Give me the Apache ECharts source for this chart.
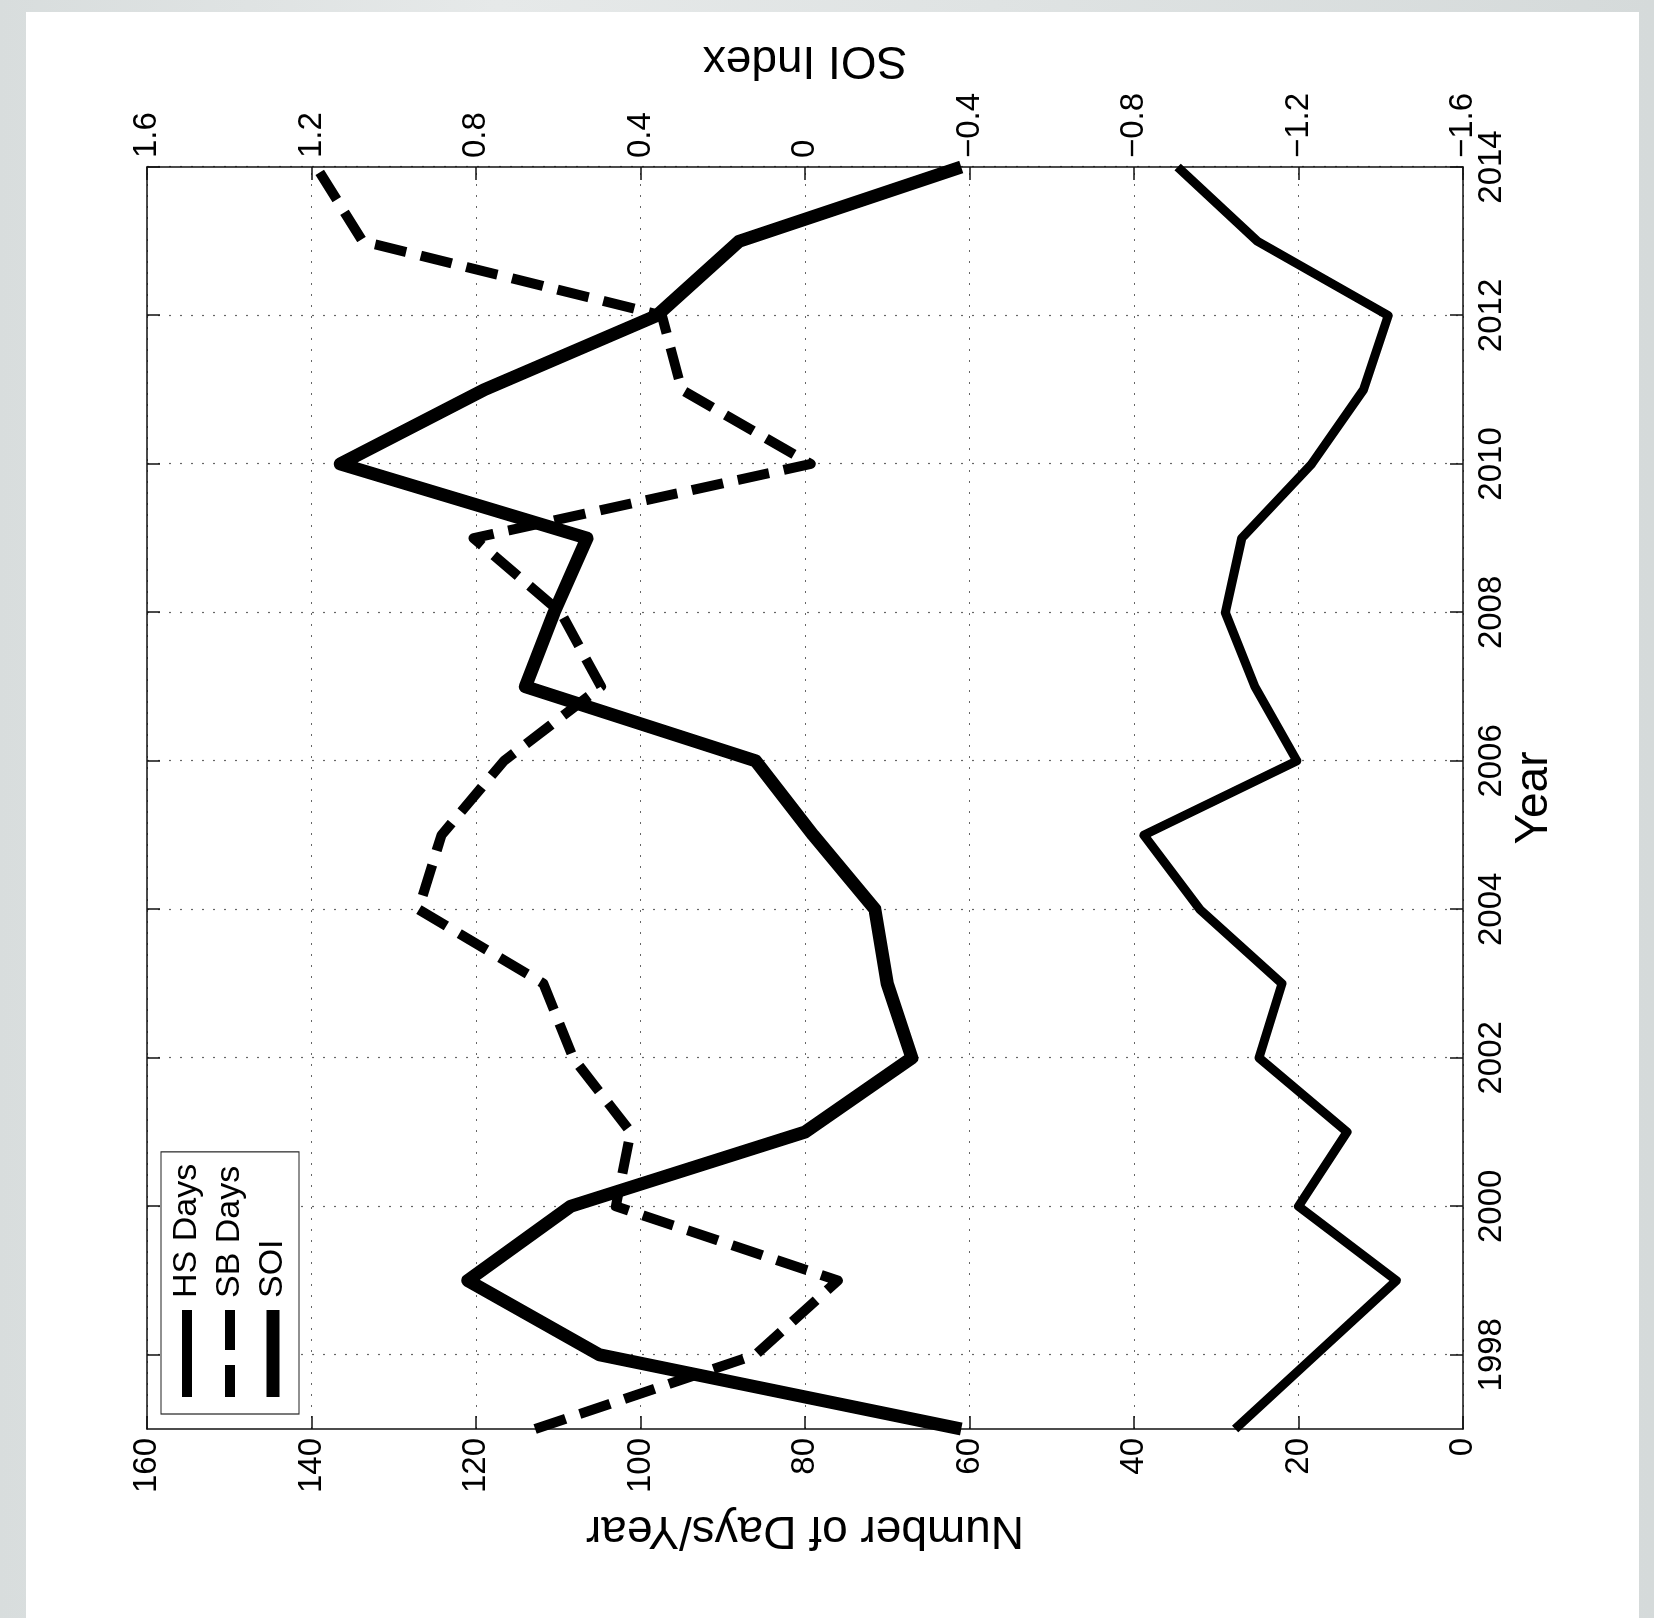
<!DOCTYPE html>
<html>
<head>
<meta charset="utf-8">
<title>HS / SB Days and SOI</title>
<script src="https://cdn.jsdelivr.net/npm/echarts@6/dist/echarts.min.js"></script>
<style>
    html, body {
        margin: 0;
        padding: 0;
        width: 1654px;
        height: 1618px;
        overflow: hidden;
        background: linear-gradient(90deg, #d8dddd 0%, #e6e9e9 30%, #dfe3e3 60%, #d5dada 100%);
    }
    #paper {
        position: absolute;
        left: 26px;
        top: 12px;
        width: 1613px;
        height: 1606px;
        background: #fff;
    }
    /* the figure was printed turned a quarter turn, so draw it upright and turn the box */
    #main {
        position: absolute;
        left: 0;
        top: 0;
        width: 1618px;
        height: 1654px;
        transform-origin: 0 0;
        transform: translate(0, 1618px) rotate(-90deg);
    }
</style>
</head>
<body>
<div id="paper"></div>
<div id="main"></div>
<script>
    var years = [1997, 1998, 1999, 2000, 2001, 2002, 2003, 2004, 2005, 2006, 2007, 2008, 2009, 2010, 2011, 2012, 2013, 2014];
    var hsDays = [27.7, 17.9, 8.1, 20.0, 14.1, 24.8, 22.0, 32.0, 38.8, 20.2, 25.3, 28.9, 26.9, 18.4, 12.1, 9.1, 25.0, 34.7];
    var sbDays = [112.8, 86.0, 76.0, 103.0, 101.2, 108.2, 111.8, 127.0, 124.2, 116.6, 104.8, 109.7, 120.3, 79.3, 95.0, 97.4, 133.8, 139.4];
    var soi = [-0.38, 0.50, 0.82, 0.57, 0.0, -0.26, -0.20, -0.17, -0.02, 0.12, 0.68, 0.61, 0.53, 1.13, 0.78, 0.36, 0.16, -0.38];
    var yearTicks = [1998, 2000, 2002, 2004, 2006, 2008, 2010, 2012, 2014];

    var FONT = '"Liberation Sans", Arial, Helvetica, sans-serif';

    // legend samples: the two hair moves pin the box to 87x14 so the bars keep their thickness
    var PIN = 'M0,0L0.01,0M0,14L0.01,14';
    var iconHS = 'path://' + PIN + 'M0,2H87V12H0Z';
    var iconSB = 'path://' + PIN + 'M0,2H32V12H0ZM47,2H87V12H47Z';
    var iconSOI = 'path://' + PIN + 'M0,0.5H87V13.5H0Z';

    function pairs(vals) {
        return years.map(function (y, i) { return [y, vals[i]]; });
    }

    function soiLabel(v) {
        var s = Math.abs(v) < 1e-9 ? '0' : v.toFixed(1);
        return s.replace('-', '\u2212');
    }

    var chart = echarts.init(document.getElementById('main'));

    var tickStyle = { color: '#111', width: 1.5 };
    var dotted = { color: '#666', width: 1.2, type: [2, 9] };

    let option = {
        animation: false,
        backgroundColor: 'transparent',
        textStyle: { fontFamily: FONT, color: '#000' },
        grid: {
            left: 189,
            right: 167,
            top: 147,
            bottom: 191,
            outerBoundsMode: 'none'
        },
        legend: {
            data: [
                { name: 'HS Days', icon: iconHS },
                { name: 'SB Days', icon: iconSB },
                { name: 'SOI', icon: iconSOI }
            ],
            orient: 'vertical',
            left: 204,
            top: 161,
            padding: [9, 12, 9, 17],
            itemGap: 9,
            itemWidth: 87,
            itemHeight: 14,
            borderColor: '#222',
            borderWidth: 1.2,
            backgroundColor: '#fff',
            itemStyle: { color: '#000', borderWidth: 0 },
            textStyle: {
                fontFamily: FONT,
                fontSize: 34,
                lineHeight: 34,
                color: '#000',
                padding: [0, 0, 0, 7]
            }
        },
        xAxis: [
            {
                type: 'value',
                position: 'bottom',
                min: 1997,
                max: 2014,
                name: 'Year',
                nameLocation: 'middle',
                nameGap: 48,
                nameMoveOverlap: false,
                nameTextStyle: { fontFamily: FONT, fontSize: 46, color: '#000' },
                axisLine: { show: true, onZero: false, lineStyle: { color: '#111', width: 1.5 } },
                axisTick: { show: true, inside: true, length: 13, customValues: yearTicks, lineStyle: tickStyle },
                axisLabel: {
                    customValues: yearTicks,
                    fontFamily: FONT,
                    fontSize: 33,
                    color: '#000',
                    margin: 12,
                    formatter: function (v) { return String(v); }
                },
                splitLine: { show: true, lineStyle: dotted }
            },
            {
                type: 'value',
                position: 'top',
                min: 1997,
                max: 2014,
                axisLine: { show: true, onZero: false, lineStyle: { color: '#111', width: 1.5 } },
                axisTick: { show: true, inside: true, length: 13, customValues: yearTicks, lineStyle: tickStyle },
                axisLabel: { show: false },
                splitLine: { show: false }
            }
        ],
        yAxis: [
            {
                type: 'value',
                position: 'left',
                min: 0,
                max: 160,
                interval: 20,
                name: 'Number of Days/Year',
                nameLocation: 'middle',
                nameRotate: 90,
                nameGap: 78,
                nameMoveOverlap: false,
                nameTextStyle: { fontFamily: FONT, fontSize: 46, color: '#000' },
                axisLine: { show: true, onZero: false, lineStyle: { color: '#111', width: 1.5 } },
                axisTick: { show: true, inside: true, length: 13, lineStyle: tickStyle },
                axisLabel: { fontFamily: FONT, fontSize: 33, color: '#000', margin: 9 },
                splitLine: { show: true, lineStyle: dotted }
            },
            {
                type: 'value',
                position: 'right',
                min: -1.6,
                max: 1.6,
                interval: 0.4,
                name: 'SOI Index',
                nameLocation: 'middle',
                nameRotate: 90,
                nameGap: 84,
                nameMoveOverlap: false,
                nameTextStyle: { fontFamily: FONT, fontSize: 46, color: '#000' },
                axisLine: { show: true, onZero: false, lineStyle: { color: '#111', width: 1.5 } },
                axisTick: { show: true, inside: true, length: 13, lineStyle: tickStyle },
                axisLabel: { fontFamily: FONT, fontSize: 33, color: '#000', margin: 9, formatter: soiLabel },
                splitLine: { show: false }
            }
        ],
        series: [
            {
                name: 'HS Days',
                type: 'line',
                xAxisIndex: 0,
                yAxisIndex: 0,
                data: pairs(hsDays),
                symbol: 'none',
                lineStyle: { color: '#000', width: 9, join: 'round' },
                itemStyle: { color: '#000' }
            },
            {
                name: 'SB Days',
                type: 'line',
                xAxisIndex: 0,
                yAxisIndex: 0,
                data: pairs(sbDays),
                symbol: 'none',
                lineStyle: { color: '#000', width: 10, type: [32, 15], cap: 'butt', join: 'round' },
                itemStyle: { color: '#000' }
            },
            {
                name: 'SOI',
                type: 'line',
                xAxisIndex: 0,
                yAxisIndex: 1,
                data: pairs(soi),
                symbol: 'none',
                lineStyle: { color: '#000', width: 13, join: 'round' },
                itemStyle: { color: '#000' }
            }
        ]
    }
    chart.setOption(option)
</script>
</body>
</html>
